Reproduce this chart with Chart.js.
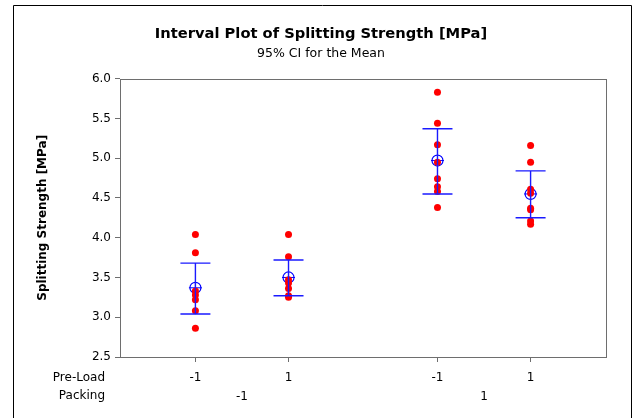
<!DOCTYPE html>
<html>
<head>
<meta charset="utf-8">
<script src="https://cdn.jsdelivr.net/npm/chart.js@4.4.1/dist/chart.umd.min.js"></script>
<style>
  html, body { margin: 0; padding: 0; background: #fff; }
  #wrap { position: relative; width: 635px; height: 418px; }
</style>
</head>
<body>
<div id="wrap"><canvas id="intervalPlot" width="635" height="418"></canvas></div>
<script>
// group positions on the x axis (Pre-Load within Packing)
var groupPos = [0, 1, 2.6, 3.6];
var preLoadLabels = ['-1', '1', '-1', '1'];
var packingPos = [0.5, 3.1];
var packingLabels = ['-1', '1'];

// individual observations per group
var group1 = [4.04, 3.81, 3.33, 3.28, 3.22, 3.08, 2.86];
var group2 = [4.04, 3.76, 3.47, 3.43, 3.36, 3.27, 3.25];
var group3 = [5.83, 5.44, 5.17, 4.95, 4.74, 4.64, 4.58, 4.38];
var group4 = [5.16, 4.95, 4.61, 4.56, 4.37, 4.35, 4.21, 4.17];

// means and 95% CI
var means = [3.37, 3.50, 4.97, 4.55];
var ciLower = [3.04, 3.27, 4.55, 4.25];
var ciUpper = [3.68, 3.72, 5.37, 4.84];

var yTicks = [2.5, 3.0, 3.5, 4.0, 4.5, 5.0, 5.5, 6.0];

var FONT = 'Verdana, "DejaVu Sans", sans-serif';
var groups = [group1, group2, group3, group4];

var obsPoints = [];
groups.forEach(function (g, i) {
    g.forEach(function (v) { obsPoints.push({x: groupPos[i], y: v}); });
});
var meanPoints = means.map(function (m, i) { return {x: groupPos[i], y: m}; });

// error bars + frame + row labels
var intervalPlugin = {
    id: 'intervalPlugin',
    beforeDraw: function (chart) {
        var ctx = chart.ctx;
        ctx.save();
        ctx.strokeStyle = '#000';
        ctx.lineWidth = 1;
        ctx.beginPath();
        ctx.moveTo(13.5, 420);
        ctx.lineTo(13.5, 5.5);
        ctx.lineTo(631.5, 5.5);
        ctx.lineTo(631.5, 420);
        ctx.stroke();
        ctx.restore();
    },
    afterDatasetsDraw: function (chart) {
        var ctx = chart.ctx;
        var xs = chart.scales.x, ys = chart.scales.y;
        ctx.save();
        ctx.strokeStyle = '#1a1aff';
        ctx.lineWidth = 1.4;
        for (var i = 0; i < groupPos.length; i++) {
            var px = xs.getPixelForValue(groupPos[i]);
            var top = ys.getPixelForValue(ciUpper[i]);
            var bot = ys.getPixelForValue(ciLower[i]);
            ctx.beginPath();
            ctx.moveTo(px, top); ctx.lineTo(px, bot);
            ctx.moveTo(px - 15, top); ctx.lineTo(px + 15, top);
            ctx.moveTo(px - 15, bot); ctx.lineTo(px + 15, bot);
            ctx.stroke();
        }
        ctx.restore();
    },
    afterDraw: function (chart) {
        var ctx = chart.ctx;
        var a = chart.chartArea;
        ctx.save();
        ctx.strokeStyle = '#6e6e6e';
        ctx.lineWidth = 1;
        ctx.strokeRect(Math.round(a.left) + 0.5, Math.round(a.top) + 0.5,
            Math.round(a.right - a.left), Math.round(a.bottom - a.top));
        ctx.fillStyle = '#000';
        ctx.font = '12px ' + FONT;
        ctx.textAlign = 'right';
        ctx.textBaseline = 'middle';
        ctx.fillText('Pre-Load', 105, 378);
        ctx.fillText('Packing', 105, 396);
        ctx.restore();
    }
};

new Chart('intervalPlot', {
    type: 'scatter',
    data: {
        datasets: [{
            label: 'Observations',
            data: obsPoints,
            pointStyle: 'circle',
            pointRadius: 3.5,
            pointBackgroundColor: '#ff0000',
            pointBorderColor: '#ff0000',
            pointBorderWidth: 0
        }, {
            label: 'Mean circle',
            data: meanPoints,
            pointStyle: 'circle',
            pointRadius: 5.5,
            pointBackgroundColor: 'rgba(0,0,0,0)',
            pointBorderColor: '#0000ff',
            pointBorderWidth: 1.2
        }, {
            label: 'Mean cross',
            data: meanPoints,
            pointStyle: 'cross',
            pointRadius: 6.5,
            pointBorderColor: '#0000ff',
            pointBorderWidth: 1
        }]
    },
    options: {
        responsive: false,
        animation: false,
        events: [],
        layout: { padding: { left: 36, right: 29, top: 0, bottom: 0 } },
        plugins: {
            legend: { display: false },
            tooltip: { enabled: false },
            title: {
                display: true,
                text: 'Interval Plot of Splitting Strength [MPa]',
                color: '#000',
                font: { family: FONT, size: 14.7, weight: 'bold' },
                padding: { top: 25, bottom: 4 }
            },
            subtitle: {
                display: true,
                text: '95% CI for the Mean',
                color: '#000',
                font: { family: FONT, size: 12.5 },
                padding: { top: 0, bottom: 17 }
            }
        },
        scales: {
            x: {
                type: 'linear',
                position: 'bottom',
                min: -0.81,
                max: 4.41,
                afterBuildTicks: function (scale) {
                    scale.ticks = groupPos.map(function (v) { return {value: v}; });
                },
                afterFit: function (scale) { scale.height = 30; },
                ticks: {
                    color: '#000',
                    font: { family: FONT, size: 12 },
                    padding: 9,
                    maxRotation: 0,
                    autoSkip: false,
                    callback: function (v, i) { return preLoadLabels[i]; }
                },
                grid: { display: true, drawOnChartArea: false, drawTicks: true, tickLength: 5, color: '#6e6e6e' },
                border: { display: false }
            },
            x2: {
                type: 'linear',
                position: 'bottom',
                min: -0.81,
                max: 4.41,
                afterBuildTicks: function (scale) {
                    scale.ticks = packingPos.map(function (v) { return {value: v}; });
                },
                ticks: {
                    color: '#000',
                    font: { family: FONT, size: 12 },
                    padding: 3,
                    maxRotation: 0,
                    autoSkip: false,
                    callback: function (v, i) { return packingLabels[i]; }
                },
                afterFit: function (scale) { scale.height = 31; },
                grid: { display: false, drawTicks: false },
                border: { display: false }
            },
            y: {
                min: 2.5,
                max: 6.0,
                afterBuildTicks: function (scale) {
                    scale.ticks = yTicks.map(function (v) { return {value: v}; });
                },
                afterFit: function (scale) { scale.width = 84; },
                ticks: {
                    color: '#000',
                    font: { family: FONT, size: 12 },
                    padding: 4,
                    callback: function (v) { return v.toFixed(1); }
                },
                grid: { display: true, drawOnChartArea: false, drawTicks: true, tickLength: 5, color: '#6e6e6e' },
                border: { display: false },
                title: {
                    display: true,
                    text: 'Splitting Strength [MPa]',
                    color: '#000',
                    font: { family: FONT, size: 12, weight: 'bold' },
                    padding: { top: 0, bottom: 0 }
                }
            }
        }
    },
    plugins: [intervalPlugin]
});
</script>
</body>
</html>
